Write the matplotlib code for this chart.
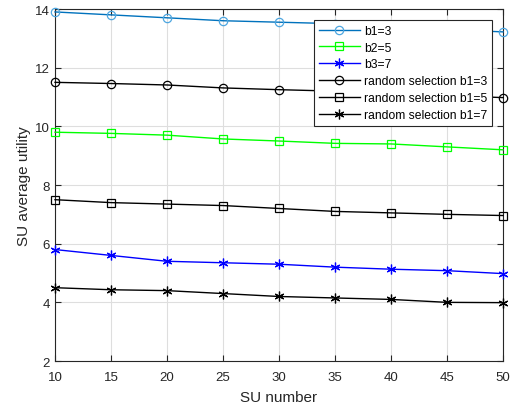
import matplotlib
matplotlib.use("Agg")
import matplotlib.pyplot as plt

su_number = [10, 15, 20, 25, 30, 35, 40, 45, 50]
b1_3 = [13.9, 13.8, 13.7, 13.6, 13.55, 13.5, 13.4, 13.3, 13.22]
b2_5 = [9.8, 9.76, 9.7, 9.57, 9.5, 9.42, 9.4, 9.3, 9.2]
b3_7 = [5.8, 5.6, 5.4, 5.35, 5.3, 5.2, 5.13, 5.08, 4.98]
rand_b1_3 = [11.5, 11.46, 11.41, 11.31, 11.25, 11.2, 11.1, 11.05, 10.98]
rand_b1_5 = [7.5, 7.4, 7.35, 7.3, 7.2, 7.1, 7.05, 7.0, 6.96]
rand_b1_7 = [4.5, 4.43, 4.4, 4.3, 4.2, 4.15, 4.1, 4.0, 3.99]

labels = ["b1=3", "b2=5", "b3=7", "random selection b1=3",
          "random selection b1=5", "random selection b1=7"]
x_ticks = [10, 15, 20, 25, 30, 35, 40, 45, 50]
y_ticks = [2, 4, 6, 8, 10, 12, 14]

plt.rcParams['font.family'] = ['Liberation Sans', 'DejaVu Sans']
fig = plt.figure(figsize=(5.16, 4.10), dpi=100)
ax = fig.add_axes([0.1066, 0.117, 0.8684, 0.8586])

asterisk = (6, 2, 0)
series = [
    (b1_3, '#0072BD', 'o', '#4DA6E0'),
    (b2_5, '#00FF00', 's', '#00FF00'),
    (b3_7, '#0000FF', asterisk, '#0000FF'),
    (rand_b1_3, '#000000', 'o', '#000000'),
    (rand_b1_5, '#000000', 's', '#000000'),
    (rand_b1_7, '#000000', asterisk, '#000000'),
]
for (vals, col, mk, mcol), lab in zip(series, labels):
    ms = 6 if mk in ('o', 's') else 7
    ax.plot(su_number, vals, color=col, marker=mk, markersize=ms,
            markerfacecolor='none', markeredgecolor=mcol, markeredgewidth=0.9,
            linewidth=1.0, label=lab, clip_on=False, zorder=3)

ax.set_xlim(10, 50)
ax.set_ylim(2, 14)
ax.set_xticks(x_ticks)
ax.set_yticks(y_ticks)
ax.grid(True, color='#DEDEDE', linewidth=0.8)
ax.set_axisbelow(True)
ax.tick_params(direction='in', top=True, right=True, labelsize=9.5,
               colors='#262626', length=4)
ax.tick_params(axis='x', pad=7.5)
ax.tick_params(axis='y', pad=3.5)
for s in ax.spines.values():
    s.set_color('#262626')
    s.set_linewidth(0.8)
ax.set_xlabel('SU number', fontsize=11, color='#262626', labelpad=5)
ax.set_ylabel('SU average utility', fontsize=11, color='#262626', labelpad=3)

leg = ax.legend(loc='upper right', bbox_to_anchor=(0.9754, 0.9688), fontsize=8.7,
                handlelength=3.4, handletextpad=0.35, borderpad=0.4,
                labelspacing=0.4, fancybox=False, framealpha=1,
                edgecolor='#262626', borderaxespad=0)
leg.get_frame().set_linewidth(0.8)
leg.set_zorder(5)

fig.savefig('out.png', dpi=100)
